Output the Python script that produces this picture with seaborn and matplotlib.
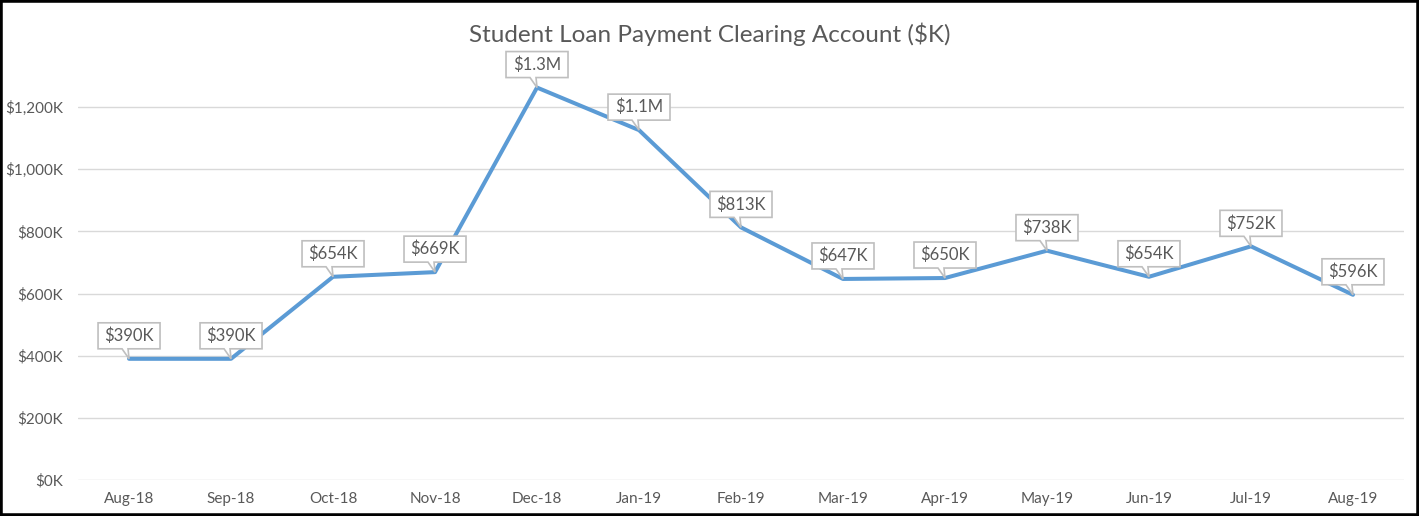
import pandas as pd
import matplotlib
matplotlib.use("Agg")
import matplotlib.pyplot as plt
import matplotlib.patches as mpatches
import matplotlib.transforms as mtransforms
from matplotlib.ticker import FuncFormatter
import seaborn as sns

# data ($K)
months = ['Aug-18', 'Sep-18', 'Oct-18', 'Nov-18', 'Dec-18', 'Jan-19', 'Feb-19',
          'Mar-19', 'Apr-19', 'May-19', 'Jun-19', 'Jul-19', 'Aug-19']
balance = [390, 390, 654, 669, 1263, 1126, 813, 647, 650, 738, 654, 752, 596]
point_labels = ['$390K', '$390K', '$654K', '$669K', '$1.3M', '$1.1M', '$813K',
                '$647K', '$650K', '$738K', '$654K', '$752K', '$596K']
y_ticks = [0, 200, 400, 600, 800, 1000, 1200]

sns.set_theme(style="white")
plt.rcParams['font.family'] = ['Lato', 'DejaVu Sans']

TEXT = '#595959'
LINE = '#5B9BD5'
GRID = '#D9D9D9'

df = pd.DataFrame({'Month': months, 'Balance': balance})

fig = plt.figure(figsize=(14.19, 5.16), dpi=100)
ax = fig.add_axes([0.055, 0.0698, 0.9344, 0.843])

sns.lineplot(data=df, x='Month', y='Balance', sort=False, color=LINE,
             linewidth=2.9, ax=ax, zorder=3)

ax.set_xlim(-0.5, len(months) - 0.5)
ax.set_ylim(0, 1400)
ax.set_yticks(y_ticks)
ax.yaxis.set_major_formatter(FuncFormatter(lambda v, p: f'${v:,.0f}K'))
ax.grid(axis='y', color=GRID, linewidth=1)
ax.grid(axis='x', visible=False)
for s in ax.spines.values():
    s.set_visible(False)
ax.tick_params(axis='both', length=0, colors=TEXT, labelsize=11)
ax.tick_params(axis='y', pad=11)
ax.tick_params(axis='x', pad=9)
ax.set_xlabel('')
ax.set_ylabel('')

# callout boxes (offsets in pixels, converted to points)
k = 0.72
shape = [(0, 0), (-7, 10), (-31, 10), (-31, 36), (31, 36), (31, 10), (-1, 10)]
shape = [(a * k, b * k) for a, b in shape]
scale = mtransforms.Affine2D().scale(fig.dpi / 72.0)
for i, (v, lab) in enumerate(zip(balance, point_labels)):
    tr = scale + mtransforms.ScaledTranslation(i, v, ax.transData)
    poly = mpatches.Polygon(shape, closed=True, transform=tr, facecolor='white',
                            edgecolor='#BFBFBF', linewidth=1.2, zorder=4, clip_on=False)
    ax.add_artist(poly)
    ax.annotate(lab, xy=(i, v), xytext=(0, 23 * k), textcoords='offset points',
                ha='center', va='center', fontsize=12, color=TEXT, zorder=5)

fig.suptitle('Student Loan Payment Clearing Account ($K)', x=0.5, y=0.934,
             va='center', fontsize=17.5, color=TEXT)

fig.patches.append(mpatches.Rectangle((0, 0), 1, 1, transform=fig.transFigure,
                                      fill=False, edgecolor='black', linewidth=4))

fig.savefig('out.png', dpi=100)
